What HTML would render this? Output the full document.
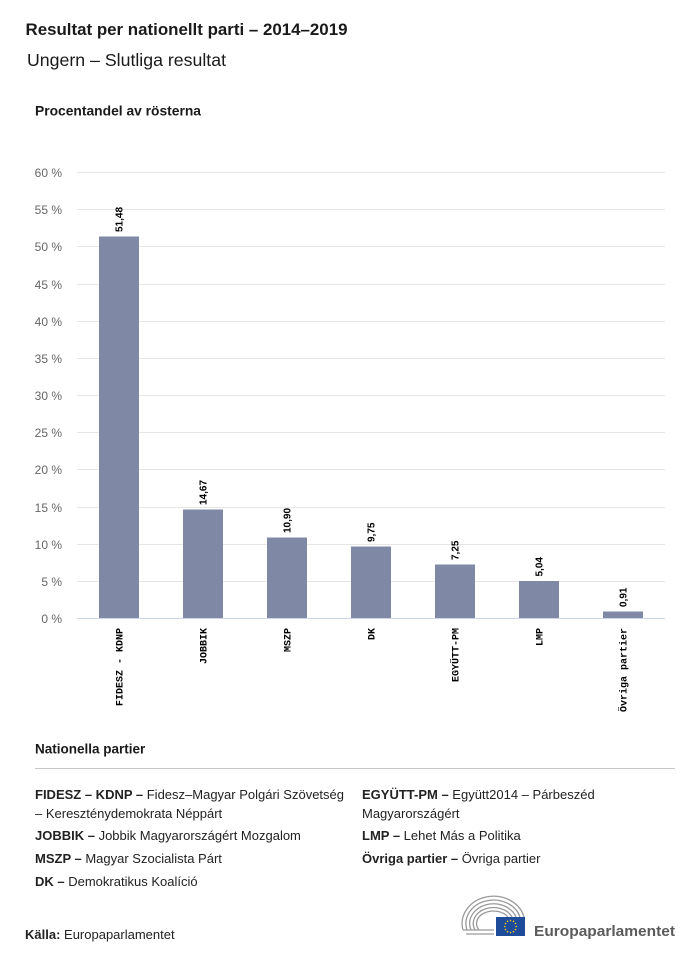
<!DOCTYPE html>
<html>
<head>
<meta charset="utf-8">
<style>
  html,body{margin:0;padding:0;background:#fff;}
  svg{display:block;}
  text{font-family:"Liberation Sans",Arial,sans-serif;}
  .mono{font-family:"Liberation Mono","DejaVu Sans Mono",monospace;}
</style>
</head>
<body>
<svg width="700" height="959" viewBox="0 0 700 959" xmlns="http://www.w3.org/2000/svg">
  <rect width="700" height="959" fill="#fff"/>
  <!-- Titles -->
  <text x="25.5" y="35" font-size="16.8" font-weight="bold" fill="#1a1a1a" textLength="322" lengthAdjust="spacingAndGlyphs">Resultat per nationellt parti – 2014–2019</text>
  <text x="27" y="66" font-size="17.5" fill="#1a1a1a" textLength="199" lengthAdjust="spacingAndGlyphs">Ungern – Slutliga resultat</text>
  <text x="35" y="115.5" font-size="13.7" font-weight="bold" fill="#1a1a1a" textLength="166" lengthAdjust="spacingAndGlyphs">Procentandel av rösterna</text>

  <!-- Gridlines -->
  <g stroke="#e6e6e6" stroke-width="1">
    <line x1="77" x2="665" y1="172.5" y2="172.5"/>
    <line x1="77" x2="665" y1="209.5" y2="209.5"/>
    <line x1="77" x2="665" y1="246.5" y2="246.5"/>
    <line x1="77" x2="665" y1="284.5" y2="284.5"/>
    <line x1="77" x2="665" y1="321.5" y2="321.5"/>
    <line x1="77" x2="665" y1="358.5" y2="358.5"/>
    <line x1="77" x2="665" y1="395.5" y2="395.5"/>
    <line x1="77" x2="665" y1="432.5" y2="432.5"/>
    <line x1="77" x2="665" y1="469.5" y2="469.5"/>
    <line x1="77" x2="665" y1="507.5" y2="507.5"/>
    <line x1="77" x2="665" y1="544.5" y2="544.5"/>
    <line x1="77" x2="665" y1="581.5" y2="581.5"/>
  </g>

  <!-- Y labels -->
  <g font-size="12" fill="#666" text-anchor="end">
    <text x="62" y="177">60 %</text>
    <text x="62" y="214">55 %</text>
    <text x="62" y="251">50 %</text>
    <text x="62" y="289">45 %</text>
    <text x="62" y="326">40 %</text>
    <text x="62" y="363">35 %</text>
    <text x="62" y="400">30 %</text>
    <text x="62" y="437">25 %</text>
    <text x="62" y="474">20 %</text>
    <text x="62" y="512">15 %</text>
    <text x="62" y="549">10 %</text>
    <text x="62" y="586">5 %</text>
    <text x="62" y="623">0 %</text>
  </g>

  <!-- Bars -->
  <g fill="#7f88a5">
    <rect x="99" y="236.5" width="40" height="382"/>
    <rect x="183" y="509.5" width="40" height="109"/>
    <rect x="267" y="537.5" width="40" height="81"/>
    <rect x="351" y="546.5" width="40" height="72"/>
    <rect x="435" y="564.5" width="40" height="54"/>
    <rect x="519" y="581" width="40" height="37.5"/>
    <rect x="603" y="611.5" width="40" height="7"/>
  </g>

  <!-- Axis line -->
  <line x1="77" x2="665" y1="618.5" y2="618.5" stroke="#ccd6eb" stroke-width="1"/>

  <!-- Value labels -->
  <g font-size="10" font-weight="bold" fill="#000" font-family="'DejaVu Sans Condensed','Liberation Sans',sans-serif">
    <text transform="translate(122.5,232) rotate(-90)">51,48</text>
    <text transform="translate(206.5,505) rotate(-90)">14,67</text>
    <text transform="translate(290.5,533) rotate(-90)">10,90</text>
    <text transform="translate(374.5,542) rotate(-90)">9,75</text>
    <text transform="translate(458.5,560) rotate(-90)">7,25</text>
    <text transform="translate(542.5,576.5) rotate(-90)">5,04</text>
    <text transform="translate(626.5,607) rotate(-90)">0,91</text>
  </g>

  <!-- Category labels -->
  <g class="mono" font-size="10" font-weight="bold" fill="#000" text-anchor="end">
    <text class="mono" transform="translate(122.5,628) rotate(-90)">FIDESZ - KDNP</text>
    <text class="mono" transform="translate(206.5,628) rotate(-90)">JOBBIK</text>
    <text class="mono" transform="translate(290.5,628) rotate(-90)">MSZP</text>
    <text class="mono" transform="translate(374.5,628) rotate(-90)">DK</text>
    <text class="mono" transform="translate(458.5,628) rotate(-90)">EGYÜTT-PM</text>
    <text class="mono" transform="translate(542.5,628) rotate(-90)">LMP</text>
    <text class="mono" transform="translate(626.5,628) rotate(-90)">Övriga partier</text>
  </g>

  <!-- Legend -->
  <text x="35" y="753.5" font-size="13.5" font-weight="bold" fill="#1a1a1a">Nationella partier</text>
  <line x1="35" x2="675" y1="768.5" y2="768.5" stroke="#c8c8c8" stroke-width="1"/>

  <g font-size="13" fill="#222">
    <text x="35" y="799"><tspan font-weight="bold">FIDESZ – KDNP –</tspan> Fidesz–Magyar Polgári Szövetség</text>
    <text x="35" y="818">– Kereszténydemokrata Néppárt</text>
    <text x="35" y="840"><tspan font-weight="bold">JOBBIK –</tspan> Jobbik Magyarországért Mozgalom</text>
    <text x="35" y="863"><tspan font-weight="bold">MSZP –</tspan> Magyar Szocialista Párt</text>
    <text x="35" y="886"><tspan font-weight="bold">DK –</tspan> Demokratikus Koalíció</text>

    <text x="362" y="799"><tspan font-weight="bold">EGYÜTT-PM –</tspan> Együtt2014 – Párbeszéd</text>
    <text x="362" y="818">Magyarországért</text>
    <text x="362" y="840"><tspan font-weight="bold">LMP –</tspan> Lehet Más a Politika</text>
    <text x="362" y="863"><tspan font-weight="bold">Övriga partier –</tspan> Övriga partier</text>
  </g>

  <!-- Footer -->
  <text x="25" y="939" font-size="13" fill="#222"><tspan font-weight="bold">Källa:</tspan> Europaparlamentet</text>

  <!-- Logo hemicycle -->
  <g fill="none" stroke="#9a9a9a" stroke-width="1.3">
    <path d="M463 930 A31 27 0 0 1 524 917"/>
    <path d="M467 930 A27 23 0 0 1 520 917"/>
    <path d="M471 930 A23 19 0 0 1 516 917"/>
    <path d="M475 930 A19 15 0 0 1 512 917"/>
    <path d="M479 930 A15 11 0 0 1 508 917"/>
    <path d="M463 930 L494 930"/>
    <path d="M466 934 L494 934"/>
  </g>
  <rect x="496" y="917" width="29" height="19" fill="#1f4b9b"/>
  <g fill="#f5d000">
    <circle cx="510.5" cy="920.5" r="0.8"/>
    <circle cx="513.5" cy="921.3" r="0.8"/>
    <circle cx="515.5" cy="923.5" r="0.8"/>
    <circle cx="516.2" cy="926.5" r="0.8"/>
    <circle cx="515.5" cy="929.5" r="0.8"/>
    <circle cx="513.5" cy="931.7" r="0.8"/>
    <circle cx="510.5" cy="932.5" r="0.8"/>
    <circle cx="507.5" cy="931.7" r="0.8"/>
    <circle cx="505.5" cy="929.5" r="0.8"/>
    <circle cx="504.8" cy="926.5" r="0.8"/>
    <circle cx="505.5" cy="923.5" r="0.8"/>
    <circle cx="507.5" cy="921.3" r="0.8"/>
  </g>
  <text x="534" y="936" font-size="15" font-weight="bold" fill="#5b5b5b" textLength="141" lengthAdjust="spacingAndGlyphs">Europaparlamentet</text>
</svg>
</body>
</html>
